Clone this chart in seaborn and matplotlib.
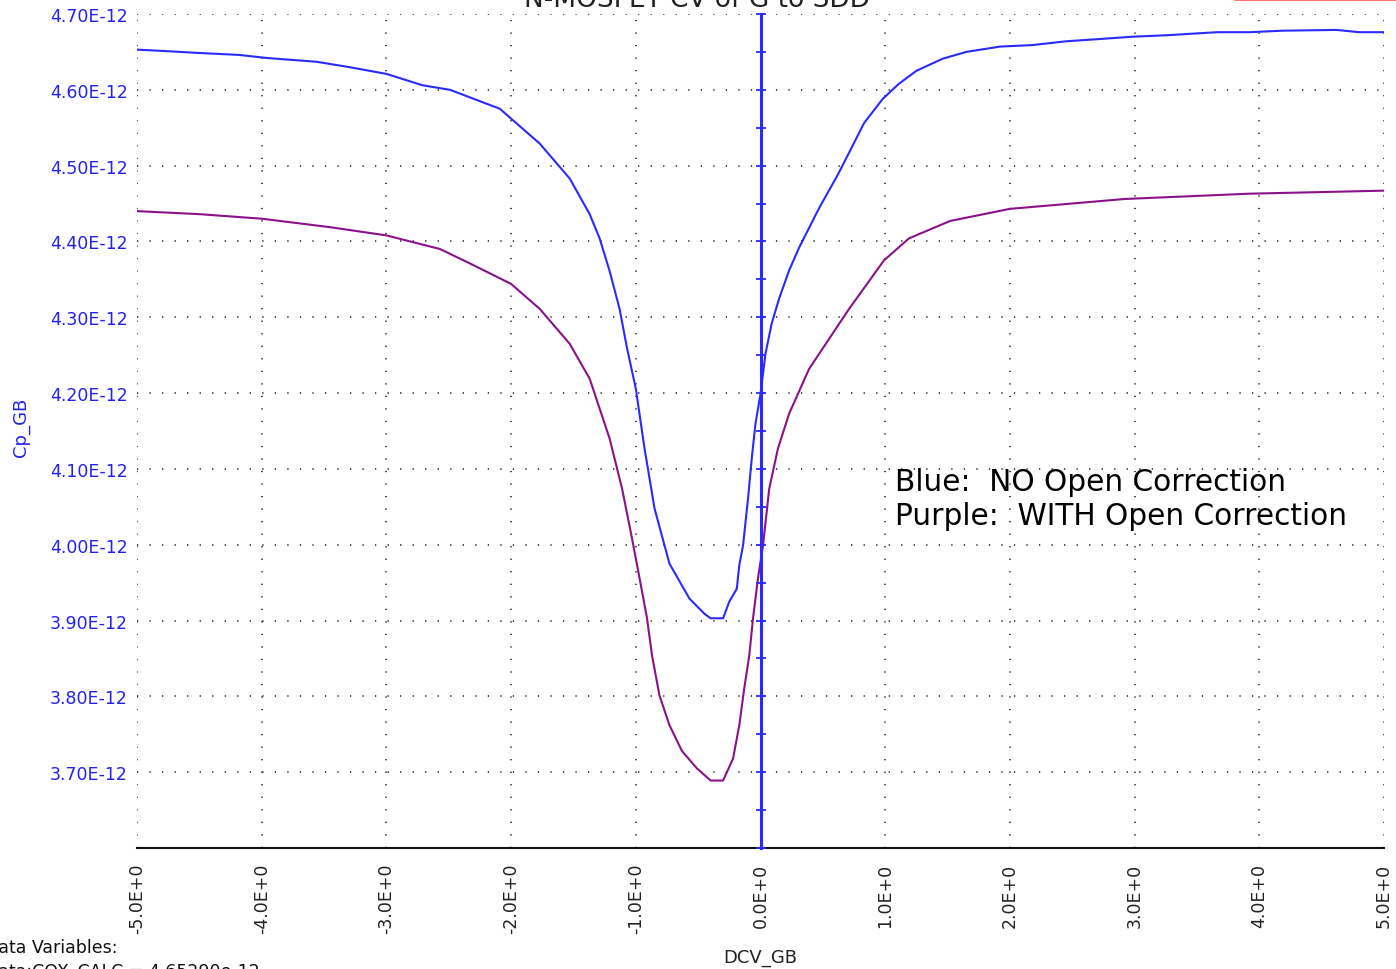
import matplotlib
matplotlib.use("Agg")
import matplotlib.pyplot as plt
from matplotlib.ticker import FixedLocator, FuncFormatter
from matplotlib.lines import Line2D
import numpy as np
import seaborn as sns

# Cp_GB vs DCV_GB, capacitance in units of 1E-12 F
blue_v = [-5.00, -4.76, -4.55, -4.18, -3.96, -3.56, -3.30, -3.00, -2.71, -2.49,
          -2.09, -2.00, -1.77, -1.53, -1.37, -1.29, -1.21, -1.13, -1.07, -1.00,
          -0.93, -0.85, -0.73, -0.57, -0.45, -0.40, -0.30, -0.25, -0.19, -0.17,
          -0.14, -0.10, -0.07, -0.04, 0.00, 0.04, 0.09, 0.15, 0.23, 0.31,
          0.47, 0.62, 0.71, 0.83, 0.98, 1.11, 1.25, 1.46, 1.65, 1.92,
          2.18, 2.45, 2.72, 2.98, 3.26, 3.66, 3.92, 4.19, 4.62, 4.80, 5.00]
blue_cp = [4.653, 4.651, 4.649, 4.646, 4.642, 4.637, 4.630, 4.621, 4.606, 4.600,
           4.575, 4.562, 4.529, 4.483, 4.436, 4.404, 4.361, 4.311, 4.259, 4.206,
           4.127, 4.048, 3.975, 3.929, 3.909, 3.903, 3.903, 3.925, 3.942, 3.973,
           3.999, 4.061, 4.114, 4.160, 4.199, 4.252, 4.292, 4.325, 4.362, 4.392,
           4.444, 4.488, 4.517, 4.556, 4.588, 4.608, 4.625, 4.641, 4.650, 4.657,
           4.659, 4.664, 4.667, 4.670, 4.672, 4.676, 4.676, 4.678, 4.679, 4.676, 4.676]

purple_v = [-5.00, -4.50, -4.00, -3.46, -3.00, -2.57, -2.33, -2.00, -1.77, -1.53,
            -1.37, -1.21, -1.11, -1.03, -0.97, -0.91, -0.87, -0.81, -0.73, -0.63,
            -0.51, -0.40, -0.30, -0.22, -0.17, -0.13, -0.09, -0.06, -0.02, 0.02,
            0.07, 0.14, 0.23, 0.39, 0.71, 0.99, 1.19, 1.52, 2.00, 2.92, 3.92, 5.00]
purple_cp = [4.440, 4.436, 4.430, 4.419, 4.408, 4.390, 4.371, 4.344, 4.311, 4.265,
             4.219, 4.140, 4.074, 4.008, 3.956, 3.903, 3.854, 3.801, 3.762, 3.728,
             3.705, 3.689, 3.689, 3.718, 3.762, 3.811, 3.854, 3.903, 3.956, 3.999,
             4.074, 4.127, 4.173, 4.232, 4.311, 4.375, 4.404, 4.427, 4.443, 4.456, 4.463, 4.467]

x_ticks = [-5, -4, -3, -2, -1, 0, 1, 2, 3, 4, 5]
y_ticks = [3.70, 3.80, 3.90, 4.00, 4.10, 4.20, 4.30, 4.40, 4.50, 4.60, 4.70]

sns.set_style("white")
plt.rcParams['font.family'] = ['DejaVu Sans']

W, H = 1396, 970
fig = plt.figure(figsize=(W / 100, H / 100), dpi=100)
ax = fig.add_axes([137 / W, 1 - 849 / H, (1384 - 137) / W, (849 - 15) / H])

sns.lineplot(x=blue_v, y=blue_cp, sort=False, color="#2a2aff", linewidth=1.5, ax=ax)
sns.lineplot(x=purple_v, y=purple_cp, sort=False, color="#8a118a", linewidth=1.5, ax=ax)

ax.set_xlim(-5, 5)
ax.set_ylim(3.60, 4.70)

# dotted grid
dots = dict(color="#111111", linewidth=1.1, linestyle=(0, (0.8, 7.4)))
ax.xaxis.set_major_locator(FixedLocator(x_ticks))
ax.xaxis.set_minor_locator(FixedLocator(np.arange(-4.5, 5, 1.0)))
ax.yaxis.set_major_locator(FixedLocator(y_ticks))
ax.grid(True, which="major", **dots)

for s in ["top", "left", "right"]:
    ax.spines[s].set_visible(False)
ax.spines["bottom"].set_color("#111111")
ax.spines["bottom"].set_linewidth(1.5)

ax.xaxis.set_major_formatter(FuncFormatter(lambda v, p: f"{v:.1f}E+0"))
ax.yaxis.set_major_formatter(FuncFormatter(lambda v, p: f"{v:.2f}E-12"))
ax.tick_params(axis="x", which="both", direction="inout", length=7, width=1.2,
               color="#111111", labelsize=12.5, labelrotation=90, pad=7,
               labelcolor="#222222")
ax.tick_params(axis="y", which="both", length=0, labelsize=12.5, pad=6.5,
               labelcolor="#2222ee")

ax.set_xlabel("DCV_GB", fontsize=13, color="#222222")
ax.set_ylabel("Cp_GB", fontsize=13, color="#2222ee")
ax.xaxis.set_label_coords(0.5, -0.12)
ax.yaxis.set_label_coords(-0.086, 0.505)

# blue Y axis at 0 V
ax2 = ax.twinx()
ax2.set_ylim(3.60, 4.70)
for s in ["top", "left", "bottom"]:
    ax2.spines[s].set_visible(False)
ax2.spines["right"].set_position(("data", 0))
ax2.spines["right"].set_color("#2a2aff")
ax2.spines["right"].set_linewidth(2.2)
ax2.yaxis.set_major_locator(FixedLocator(np.arange(3.60, 4.701, 0.05)))
ax2.tick_params(axis="y", direction="inout", length=7, width=1.3,
                color="#2a2aff", labelright=False)
ax2.grid(False)

ax.text(1.075, 4.0716, "Blue:  NO Open Correction", fontsize=21.3, color="black")
ax.text(1.075, 4.0267, "Purple:  WITH Open Correction", fontsize=21.3, color="black")

fig.text(697 / W, 1 - 7 / H, "N-MOSFET CV of G to SDD", fontsize=19,
         ha="center", va="baseline", color="#222222")
fig.text(-0.011, 1 - 953 / H, "Data Variables:", fontsize=12.5,
         ha="left", va="baseline", color="#111111")
fig.text(-0.011, 1 - 963 / H, "Data:COX_CALC = 4.65290e-12", fontsize=12.5,
         ha="left", va="top", color="#111111")
fig.add_artist(Line2D([1235 / W, 1.0], [0.9995, 0.9995], color="#ff6060", linewidth=2))

fig.savefig("out.png", dpi=100)
